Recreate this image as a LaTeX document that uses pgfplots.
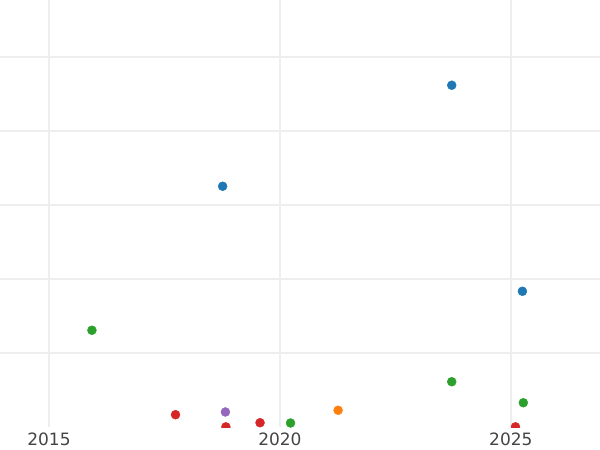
\documentclass[border=0pt]{standalone}
\usepackage{pgfplots}
\pgfplotsset{compat=1.18}
\usepackage{fontspec}
\setmainfont{DejaVu Sans}
\definecolor{cblue}{HTML}{1F77B4}
\definecolor{cgreen}{HTML}{2CA02C}
\definecolor{cred}{HTML}{D62728}
\definecolor{cpurple}{HTML}{9467BD}
\definecolor{corange}{HTML}{FF7F0E}
\definecolor{gridc}{HTML}{EEEEEE}
\definecolor{tickc}{HTML}{444444}
\begin{document}
\begin{tikzpicture}
\begin{axis}[
  at={(0pt,0pt)}, anchor=south west,
  scale only axis, width=600pt, height=427pt,
  xmin=2013.94, xmax=2026.93,
  ymin=0, ymax=5.77,
  axis line style={draw=none},
  xtick={2015,2020,2025},
  ytick={1,2,3,4,5}, yticklabels={},
  major tick length=0pt,
  grid=major,
  major grid style={color=gridc, line width=1.6pt},
  /pgf/number format/assume math mode=true,
  /pgf/number format/1000 sep={},
  xticklabel style={font=\fontsize{17}{20}\selectfont, text=tickc, inner sep=0pt, anchor=north, yshift=-6pt},
  clip marker paths=true,
  every axis plot/.append style={only marks, mark=*, mark size=4.5pt},
]
\addplot[color=cblue, mark options={fill=cblue, draw=cblue}] coordinates {(2018.76,3.253) (2023.72,4.618) (2025.25,1.834)};
\addplot[color=cgreen, mark options={fill=cgreen, draw=cgreen}] coordinates {(2015.93,1.307) (2023.72,0.612) (2025.27,0.328) (2020.23,0.054)};
\addplot[color=cred, mark options={fill=cred, draw=cred}] coordinates {(2017.74,0.166) (2018.83,0.002) (2019.57,0.058) (2025.10,0.002)};
\addplot[color=cpurple, mark options={fill=cpurple, draw=cpurple}] coordinates {(2018.82,0.203)};
\addplot[color=corange, mark options={fill=corange, draw=corange}] coordinates {(2021.26,0.226)};
\end{axis}
\pgfresetboundingbox
\path (0pt,-23pt) rectangle (600pt,427pt);
\end{tikzpicture}
\end{document}
